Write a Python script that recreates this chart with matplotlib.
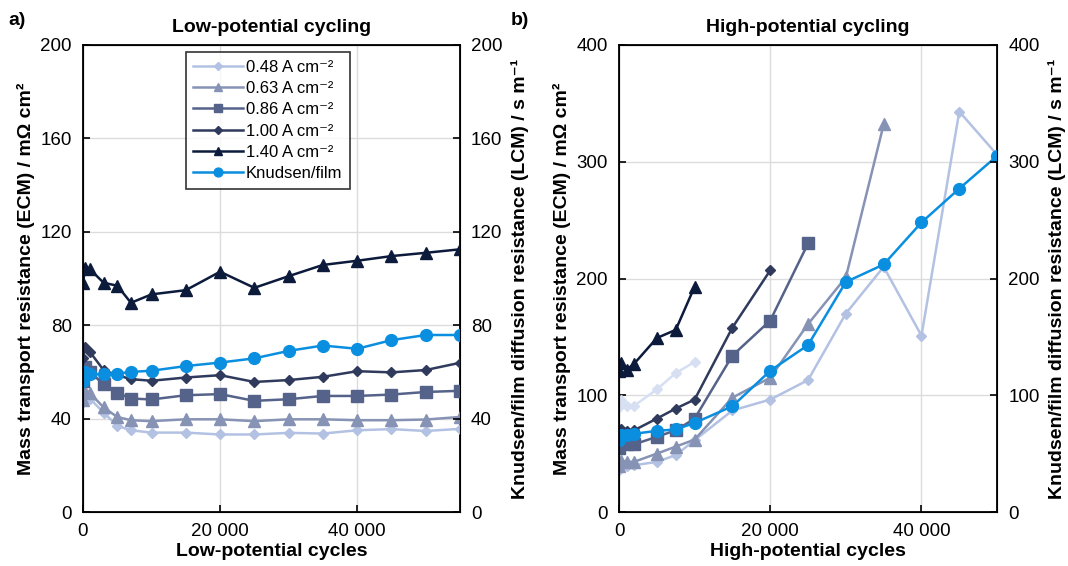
import matplotlib
matplotlib.use("Agg")
import matplotlib.pyplot as plt

plt.rcParams['font.family'] = ['Liberation Sans', 'DejaVu Sans']

# ---------------- data ----------------
labels = ["0.48 A cm⁻²", "0.63 A cm⁻²", "0.86 A cm⁻²", "1.00 A cm⁻²", "1.40 A cm⁻²", "Knudsen/film"]
colors = ["#b3c2e3", "#8793b5", "#55628a", "#2f3a5c", "#0c1a3c", "#0a8fe0"]
markers = ["D", "^", "s", "D", "^", "o"]
msizes = [5.5, 8, 8, 5.5, 8, 8.5]

# Low-potential cycling
lp_cycles = [0, 300, 1000, 3000, 5000, 7000, 10000, 15000, 20000, 25000,
             30000, 35000, 40000, 45000, 50000, 55000]
lp_048 = [47, 49.3, 48.6, 42.6, 36.9, 35, 34, 34, 33.2, 33.2, 33.9, 33.6, 35, 35.5, 34.7, 35.6]
lp_063 = [47.9, 51.4, 51, 44.8, 40.7, 39.3, 38.9, 39.7, 39.7, 38.9, 39.7, 39.7, 39.3, 39.3, 39.6, 40.7]
lp_086 = [56, 62, 60, 54.7, 51, 48.6, 48.2, 50, 50.5, 47.6, 48.3, 49.7, 49.7, 50.3, 51.4, 51.9]
lp_100 = [66, 70.7, 68.6, 60.8, 58.6, 56.9, 56.2, 57.6, 58.6, 55.7, 56.5, 57.9, 60.3, 59.8, 60.8, 63.9]
lp_140 = [98, 104.3, 104, 98.2, 96.9, 89.6, 93.2, 95, 102.9, 96, 101, 105.8, 107.6, 109.6, 111, 112.5]
lp_knud = [56, 60, 59, 59, 59.3, 60, 60.5, 62.5, 64, 65.8, 69, 71.3, 69.9, 73.6, 75.8, 75.8]

# High-potential cycling
hp_cycles = [0, 300, 1000, 2000, 5000, 7500, 10000, 15000, 20000, 25000,
             30000, 35000, 40000, 45000, 50000]
hp_extra = [90, 96, 91, 91, 105, 119, 128.5]
hp_048 = [36, 40, 39, 40, 43, 48.7, 61.5, 87, 96.3, 113, 170, 210, 151, 343, 306]
hp_063 = [39, 44, 43, 43, 50, 56, 62, 98, 115, 161, 201, 332]
hp_086 = [55, 60, 58, 58, 64.4, 70, 80, 134, 164, 230]
hp_100 = [67, 71, 69, 70, 80, 88.6, 96.3, 158, 207]
hp_140 = [121, 128, 122, 127, 149, 156, 193]
hp_knud = [62, 66, 66, 67, 69.5, 70.7, 76.3, 90.6, 121, 143, 197, 212, 248, 277, 305]
extra_color = "#d7e0f2"

lp_series = [lp_048, lp_063, lp_086, lp_100, lp_140, lp_knud]
hp_series = [hp_048, hp_063, hp_086, hp_100, hp_140, hp_knud]

ylabel_l = "Mass transport resistance (ECM) / mΩ cm²"
ylabel_r = "Knudsen/film diffusion resistance (LCM) / s m⁻¹"

LBL = 14

fig = plt.figure(figsize=(10.68, 5.66), dpi=100)
axL = fig.add_axes([0.0777, 0.0954, 0.353, 0.8251])
axR = fig.add_axes([0.5796, 0.0954, 0.354, 0.8251])


def style(ax, xmax, ymax, yticks):
    ax.set_xlim(0, xmax)
    ax.set_ylim(0, ymax)
    ax.set_xticks([0, 20000, 40000])
    ax.set_xticklabels(["0", "20 000", "40 000"])
    ax.set_yticks(yticks)
    ax.grid(True, color="#dcdcdc", linewidth=1.0)
    ax.set_axisbelow(True)
    ax.tick_params(direction="in", labelsize=13.5, length=5, width=1.2, pad=8)
    for s in ax.spines.values():
        s.set_linewidth(1.3)
    tw = ax.twinx()
    tw.set_ylim(0, ymax)
    tw.set_yticks(yticks)
    tw.tick_params(direction="in", labelsize=13.5, length=5, width=1.2, pad=8)
    tw.set_ylabel(ylabel_r, fontsize=LBL, fontweight="bold", labelpad=6)
    return tw


# Left panel
style(axL, 55000, 200, [0, 40, 80, 120, 160, 200])
handles = []
for vals, c, m, ms, lab in zip(lp_series, colors, markers, msizes, labels):
    h, = axL.plot(lp_cycles[:len(vals)], vals, color=c, marker=m, markersize=ms,
                  linewidth=1.8, label=lab, zorder=3)
    handles.append(h)
axL.set_ylabel(ylabel_l, fontsize=LBL, fontweight="bold", labelpad=4)
axL.set_xlabel("Low-potential cycles", fontsize=LBL, fontweight="bold", labelpad=2)
axL.set_title("Low-potential cycling", fontsize=LBL, fontweight="bold", pad=9)
leg = axL.legend(handles=handles, loc="upper center", bbox_to_anchor=(0.49, 0.985),
                 fontsize=12, frameon=True, fancybox=False, edgecolor="black",
                 handlelength=3.0, labelspacing=0.38, borderpad=0.45, handletextpad=0.15,
                 borderaxespad=0.0, markerscale=0.75)
leg.get_frame().set_linewidth(1.2)
leg.set_zorder(5)

# Right panel
style(axR, 50000, 400, [0, 100, 200, 300, 400])
axR.plot(hp_cycles[:len(hp_extra)], hp_extra, color=extra_color, marker="D",
         markersize=5.5, linewidth=1.8, zorder=3)
for vals, c, m, ms in zip(hp_series, colors, markers, msizes):
    axR.plot(hp_cycles[:len(vals)], vals, color=c, marker=m, markersize=ms,
             linewidth=1.8, zorder=3)
axR.set_ylabel(ylabel_l, fontsize=LBL, fontweight="bold", labelpad=4)
axR.set_xlabel("High-potential cycles", fontsize=LBL, fontweight="bold", labelpad=2)
axR.set_title("High-potential cycling", fontsize=LBL, fontweight="bold", pad=9)

fig.text(0.008, 0.955, "a)", fontsize=LBL, fontweight="bold")
fig.text(0.478, 0.955, "b)", fontsize=LBL, fontweight="bold")

fig.savefig("out.png", dpi=100)
